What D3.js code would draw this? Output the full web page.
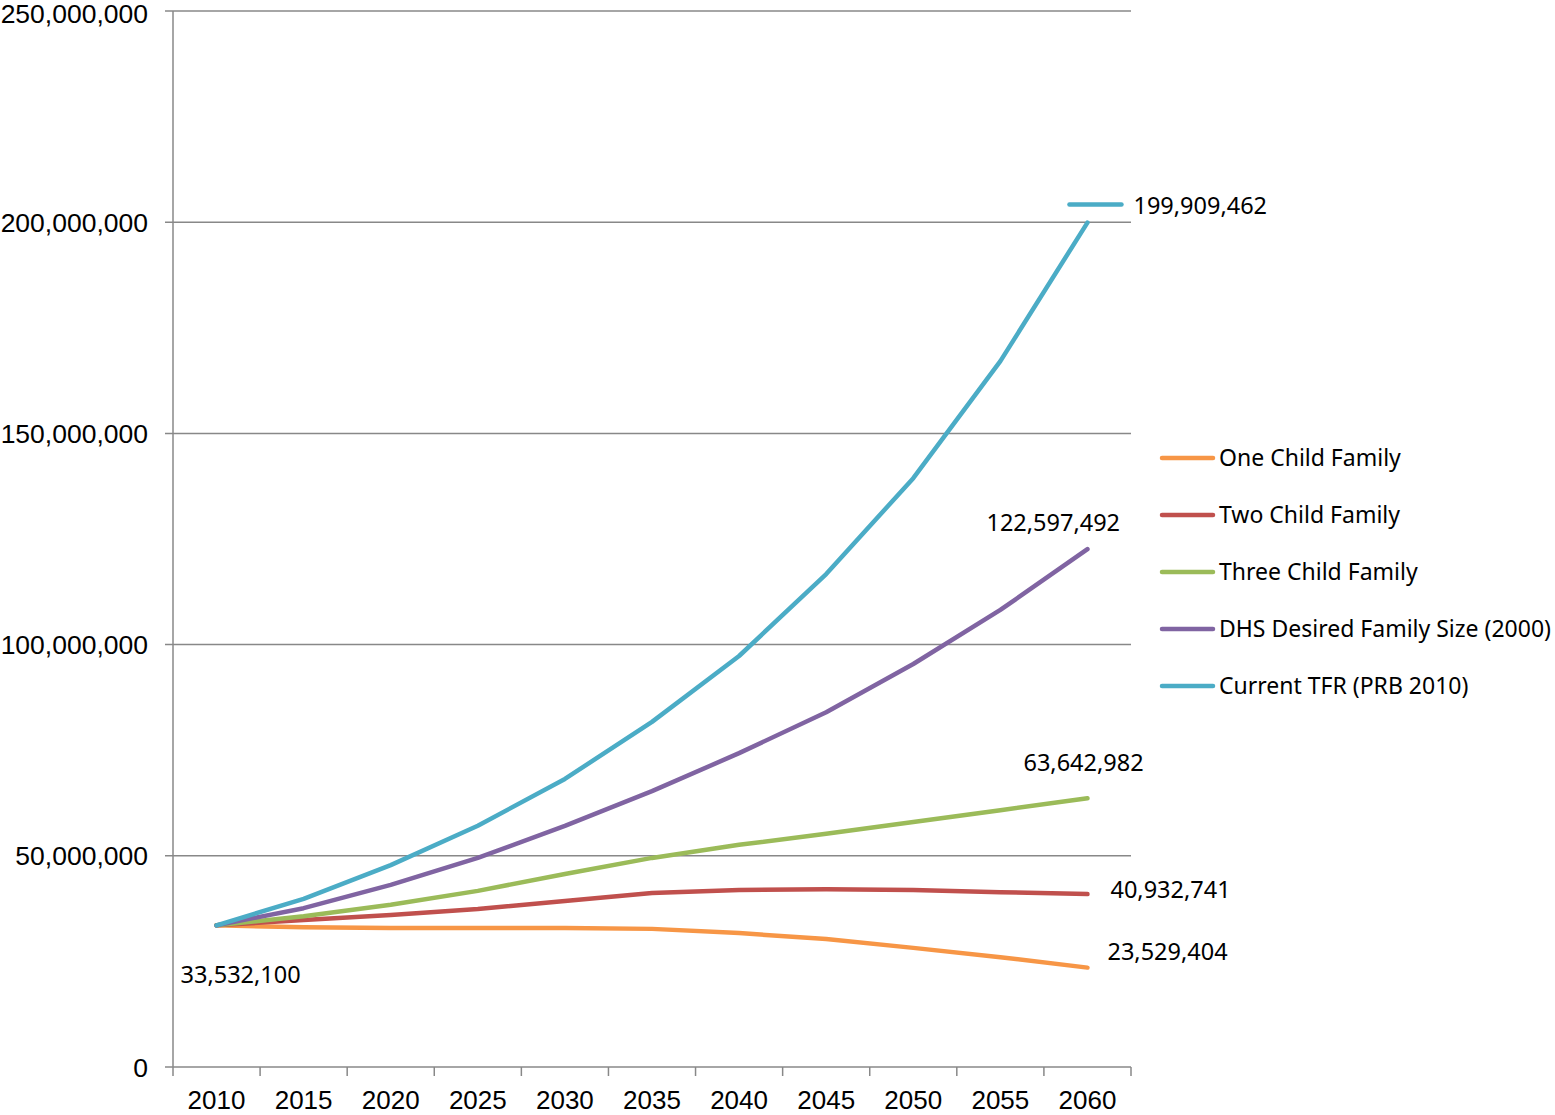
<!DOCTYPE html>
<html><head><meta charset="utf-8">
<script src="https://cdn.jsdelivr.net/npm/d3@7"></script>
<style>body{margin:0;background:#fff}svg{display:block}</style>
</head><body>
<svg id="c" width="1555" height="1115"></svg>
<script>
const years = ["2010","2015","2020","2025","2030","2035","2040","2045","2050","2055","2060"];
const seriesNames = ["One Child Family","Two Child Family","Three Child Family","DHS Desired Family Size (2000)","Current TFR (PRB 2010)"];
const seriesColors = ["#F79646","#C0504D","#9BBB59","#8064A2","#4BACC6"];
const oneChild = [33532100,33100000,32900000,32900000,32900000,32700000,31700000,30300000,28200000,26000000,23529404];
const twoChild = [33532100,34800000,36000000,37400000,39300000,41200000,41900000,42100000,41900000,41400000,40932741];
const threeChild = [33532100,35700000,38400000,41700000,45700000,49500000,52600000,55200000,58000000,60800000,63642982];
const dhs = [33532100,37600000,43100000,49500000,57100000,65300000,74300000,84000000,95400000,108200000,122597492];
const currentTFR = [33532100,39800000,47800000,57100000,68200000,81700000,97300000,116700000,139400000,167100000,199909462];
const yTicks = [0,50000000,100000000,150000000,200000000,250000000];

const allSeries = [oneChild,twoChild,threeChild,dhs,currentTFR];
const svg = d3.select("#c");
const L=173,R=1131,T=11,B=1067;
const x = d3.scaleBand().domain(years).range([L,R]);
const y = d3.scaleLinear().domain([0,250000000]).range([B,T]);
const cx = d => x(d)+x.bandwidth()/2;
const fmt = d3.format(",");
const grid="#888";

svg.append("g").selectAll("line").data(yTicks).join("line")
  .attr("x1",L-8).attr("x2",R).attr("y1",d=>y(d)).attr("y2",d=>y(d))
  .attr("stroke",grid).attr("stroke-width",1.5);
svg.append("line").attr("x1",L).attr("x2",L).attr("y1",T).attr("y2",B).attr("stroke",grid).attr("stroke-width",1.5);
const bounds = years.map(d=>x(d)).concat([R]);
svg.append("g").selectAll("line").data(bounds).join("line")
  .attr("x1",d=>d).attr("x2",d=>d).attr("y1",B).attr("y2",B+9)
  .attr("stroke",grid).attr("stroke-width",1.5);
svg.append("g").selectAll("text").data(yTicks).join("text")
  .attr("x",148).attr("y",d=>Math.max(y(d),13)).attr("dy","0.36em").attr("text-anchor","end")
  .attr("font-family","Liberation Sans, Arial, sans-serif").attr("font-size",26.5)
  .text(d=>d===0?"0":fmt(d));
svg.append("g").selectAll("text").data(years).join("text")
  .attr("x",d=>cx(d)).attr("y",1109).attr("text-anchor","middle")
  .attr("font-family","Liberation Sans, Arial, sans-serif").attr("font-size",26)
  .text(d=>d);

const line = d3.line().x((d,i)=>cx(years[i])).y(d=>y(d));
allSeries.forEach((s,i)=>{
  svg.append("path").datum(s).attr("d",line).attr("fill","none")
    .attr("stroke",seriesColors[i]).attr("stroke-width",4.5)
    .attr("stroke-linecap","round").attr("stroke-linejoin","round");
});

const lf = "Noto Sans, Open Sans, sans-serif";
const last = years[years.length-1];
function lbl(xp,yp,t){
  svg.append("text").attr("x",xp).attr("y",yp).attr("dy","0.35em")
    .attr("font-family",lf).attr("font-size",23.5).attr("fill","#000").text(t);
}
svg.append("line").attr("x1",cx(last)-18).attr("x2",cx(last)+34)
  .attr("y1",y(currentTFR[10])-18).attr("y2",y(currentTFR[10])-18)
  .attr("stroke",seriesColors[4]).attr("stroke-width",4.5).attr("stroke-linecap","round");
lbl(cx(last)+46, y(currentTFR[10])-17, fmt(currentTFR[10]));
lbl(cx(last)-101, y(dhs[10])-26, fmt(dhs[10]));
lbl(cx(last)-64, y(threeChild[10])-35, fmt(threeChild[10]));
lbl(cx(last)+23, y(twoChild[10])-4, fmt(twoChild[10]));
lbl(cx(last)+20, y(oneChild[10])-16, fmt(oneChild[10]));
lbl(cx(years[0])-36, y(oneChild[0])+49, fmt(oneChild[0]));

const lg = svg.append("g");
seriesNames.forEach((n,i)=>{
  const yy = 458 + i*57;
  lg.append("line").attr("x1",1162).attr("x2",1213).attr("y1",yy).attr("y2",yy)
    .attr("stroke",seriesColors[i]).attr("stroke-width",4.5).attr("stroke-linecap","round");
  lg.append("text").attr("x",1219).attr("y",yy).attr("dy","0.35em")
    .attr("font-family",lf).attr("font-size",23).text(n);
});
</script>
</body></html>
